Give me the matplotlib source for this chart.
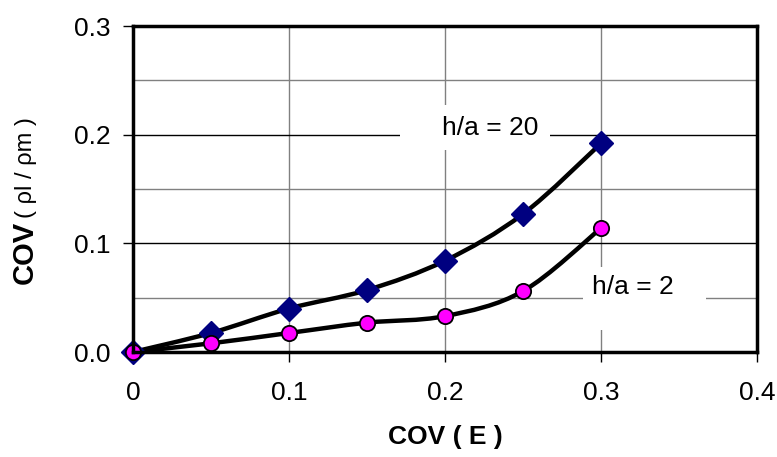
import matplotlib
matplotlib.use("Agg")
import matplotlib.pyplot as plt
from matplotlib.path import Path
from matplotlib.patches import PathPatch, Rectangle
import numpy as np

plt.rcParams['font.family'] = ['Liberation Sans', 'DejaVu Sans']

cov_e = [0.0, 0.05, 0.10, 0.15, 0.20, 0.25, 0.30]
ha20 = [0.0, 0.0175, 0.040, 0.057, 0.084, 0.127, 0.192]
ha2 = [0.0, 0.008, 0.0175, 0.027, 0.033, 0.056, 0.114]
xticks = [0, 0.1, 0.2, 0.3, 0.4]
xticklabels = ['0', '0.1', '0.2', '0.3', '0.4']
yticks = [0.0, 0.1, 0.2, 0.3]
yticklabels = ['0.0', '0.1', '0.2', '0.3']


def smooth_path(x, y, t=1/6):
    x = np.asarray(x, float); y = np.asarray(y, float)
    n = len(x)
    verts = [(x[0], y[0])]; codes = [Path.MOVETO]
    for i in range(n - 1):
        p0 = np.array([x[max(i - 1, 0)], y[max(i - 1, 0)]])
        p1 = np.array([x[i], y[i]])
        p2 = np.array([x[i + 1], y[i + 1]])
        p3 = np.array([x[min(i + 2, n - 1)], y[min(i + 2, n - 1)]])
        c1 = p1 + (p2 - p0) * t
        c2 = p2 - (p3 - p1) * t
        verts += [tuple(c1), tuple(c2), tuple(p2)]
        codes += [Path.CURVE4] * 3
    return Path(verts, codes)


W, H = 777, 457
fig = plt.figure(figsize=(W / 100, H / 100), dpi=100)
ax = fig.add_axes([133 / W, 1 - 352 / H, (757 - 133) / W, (352 - 26) / H])
ax.set_xlim(0, 0.4)
ax.set_ylim(0, 0.3)
ax.set_axisbelow(True)

# grid
ax.set_yticks([0.05, 0.15, 0.25], minor=True)
ax.grid(which='major', axis='y', color='black', lw=1.0)
ax.grid(which='minor', axis='y', color='#808080', lw=1.0)
ax.grid(which='major', axis='x', color='#808080', lw=1.0)
ax.tick_params(which='minor', length=0)

for s in ax.spines.values():
    s.set_linewidth(2.5)
    s.set_color('black')
    s.set_zorder(6)

# white label backgrounds
ax.add_patch(Rectangle((0.171, 0.186), 0.096, 0.041, facecolor='white',
                       edgecolor='none', zorder=1))
ax.add_patch(Rectangle((0.2885, 0.020), 0.0785, 0.058, facecolor='white',
                       edgecolor='none', zorder=1))

for yy in (ha20, ha2):
    ax.add_patch(PathPatch(smooth_path(cov_e, yy), facecolor='none',
                           edgecolor='black', lw=3.2, zorder=3, capstyle='round'))

ax.plot(cov_e, ha20, ls='none', marker='D', ms=12.5, mfc='#000080',
        mec='#000080', zorder=4, clip_on=False)
ax.plot(cov_e, ha2, ls='none', marker='o', ms=11, mfc='#FF00FF',
        mec='black', mew=1.3, zorder=5, clip_on=False)

ax.set_xticks(xticks)
ax.set_xticklabels(xticklabels)
ax.set_yticks(yticks)
ax.set_yticklabels(yticklabels)
ax.tick_params(which='major', direction='out', length=7.2, width=1,
               labelsize=19)
ax.tick_params(axis='y', pad=9)
ax.tick_params(axis='x', pad=14)

ax.text(0.229, 0.206, 'h/a = 20', fontsize=19, ha='center', va='center',
        zorder=2)
ax.text(0.3205, 0.060, 'h/a = 2', fontsize=19, ha='center', va='center',
        zorder=2)

fig.text(445 / W, 1 - 437 / H, 'COV ( E )', fontsize=19, fontweight='bold',
         ha='center', va='center')
fig.text(25 / W, 1 - 284 / H, 'COV', fontsize=21, fontweight='bold',
         rotation=90, ha='center', va='bottom')
fig.text(26 / W, 1 - 218 / H, '( ρl / ρm )', fontsize=17,
         rotation=90, ha='center', va='bottom')

fig.savefig('out.png', dpi=100)
